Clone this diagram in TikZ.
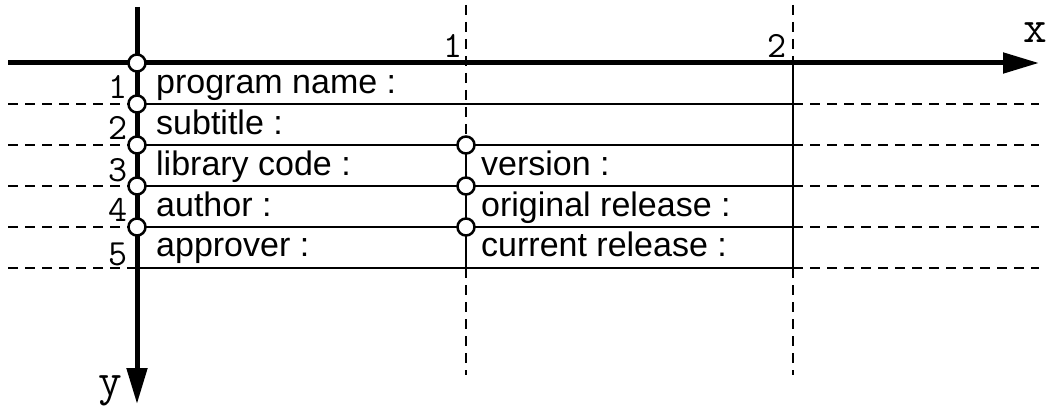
\documentclass[tikz,border=0pt]{standalone}
\usepackage{fontspec}
\setmainfont{Liberation Sans}
\usetikzlibrary{arrows.meta}

\tikzset{
  axis/.style={line width=5pt, -{Triangle[length=36pt,width=20pt]}},
  rule/.style={line width=2.5pt},
  guide/.style={line width=2.5pt, dash pattern=on 10pt off 7pt},
  joint/.style={circle, draw, line width=2.5pt, fill=white,
                minimum size=17pt, inner sep=0pt},
  field/.style={anchor=base west, inner sep=0pt,
                font=\fontsize{34}{40}\selectfont},
  tick/.style={anchor=base east, inner sep=0pt,
               font=\ttfamily\fontsize{37}{40}\selectfont},
  axlabel/.style={anchor=base, inner sep=0pt,
                  font=\ttfamily\fontsize{46}{50}\selectfont}
}

\begin{document}
\begin{tikzpicture}[x=1pt,y=-1pt]
\useasboundingbox (0,0) rectangle (1053,409);

\coordinate (o)  at (137,63);
\coordinate (a1) at (137,104);
\coordinate (a2) at (137,145);
\coordinate (a3) at (137,186);
\coordinate (a4) at (137,227);
\coordinate (a5) at (137,268);
\coordinate (b0) at (466,63);
\coordinate (c0) at (793,63);
\coordinate (xend) at (1039,63);
\coordinate (yend) at (137,404);

\draw[guide]
    (8,104) -- (a1)  (8,145) -- (a2)  (8,186) -- (a3)
    (8,227) -- (a4)  (8,268) -- (a5)
    (a1 -| c0) -- (a1 -| xend)  (a2 -| c0) -- (a2 -| xend)
    (a3 -| c0) -- (a3 -| xend)  (a4 -| c0) -- (a4 -| xend)
    (a5 -| c0) -- (a5 -| xend)
    (466,5) -- (a2 -| b0)  (a5 -| b0) -- (466,375)
    (793,5) -- (c0)  (a5 -| c0) -- (793,375);

\draw[rule]
    (a1) -- (a1 -| c0)  (a2) -- (a2 -| c0)  (a3) -- (a3 -| c0)
    (a4) -- (a4 -| c0)  (a5) -- (a5 -| c0)
    (a2 -| b0) -- (a5 -| b0)  (c0) -- (a5 -| c0);

\draw[axis] (8,63) -- (xend);
\draw[axis] (137,7) -- (yend);

\node[joint] (j0) at (o) {};
\node[joint] (j1) at (a1) {};
\node[joint] (j2) at (a2) {};
\node[joint] (j3) at (a3) {};
\node[joint] (j4) at (a4) {};
\node[joint] (k2) at (a2 -| b0) {};
\node[joint] (k3) at (a3 -| b0) {};
\node[joint] (k4) at (a4 -| b0) {};

\node[tick] (r1) at (128,99)  {1};
\node[tick] (r2) at (128,140) {2};
\node[tick] (r3) at (128,182) {3};
\node[tick] (r4) at (128,222) {4};
\node[tick] (r5) at (128,265) {5};
\node[tick] (t1) at (463,58) {1};
\node[tick] (t2) at (787,58) {2};
\node[axlabel] (xl) at (1035,43)  {x};
\node[axlabel] (yl) at (110,395) {y};

\node[field] (pname)  at (156,94)  {program name :};
\node[field] (sub)    at (156,135) {subtitle :};
\node[field] (lib)    at (156,176) {library code :};
\node[field] (auth)   at (156,216) {author :};
\node[field] (appr)   at (156,256) {approver :};
\node[field] (ver)    at (481,176) {version :};
\node[field] (orig)   at (481,216) {original release :};
\node[field] (curr)   at (481,256) {current release :};

\end{tikzpicture}
\end{document}
